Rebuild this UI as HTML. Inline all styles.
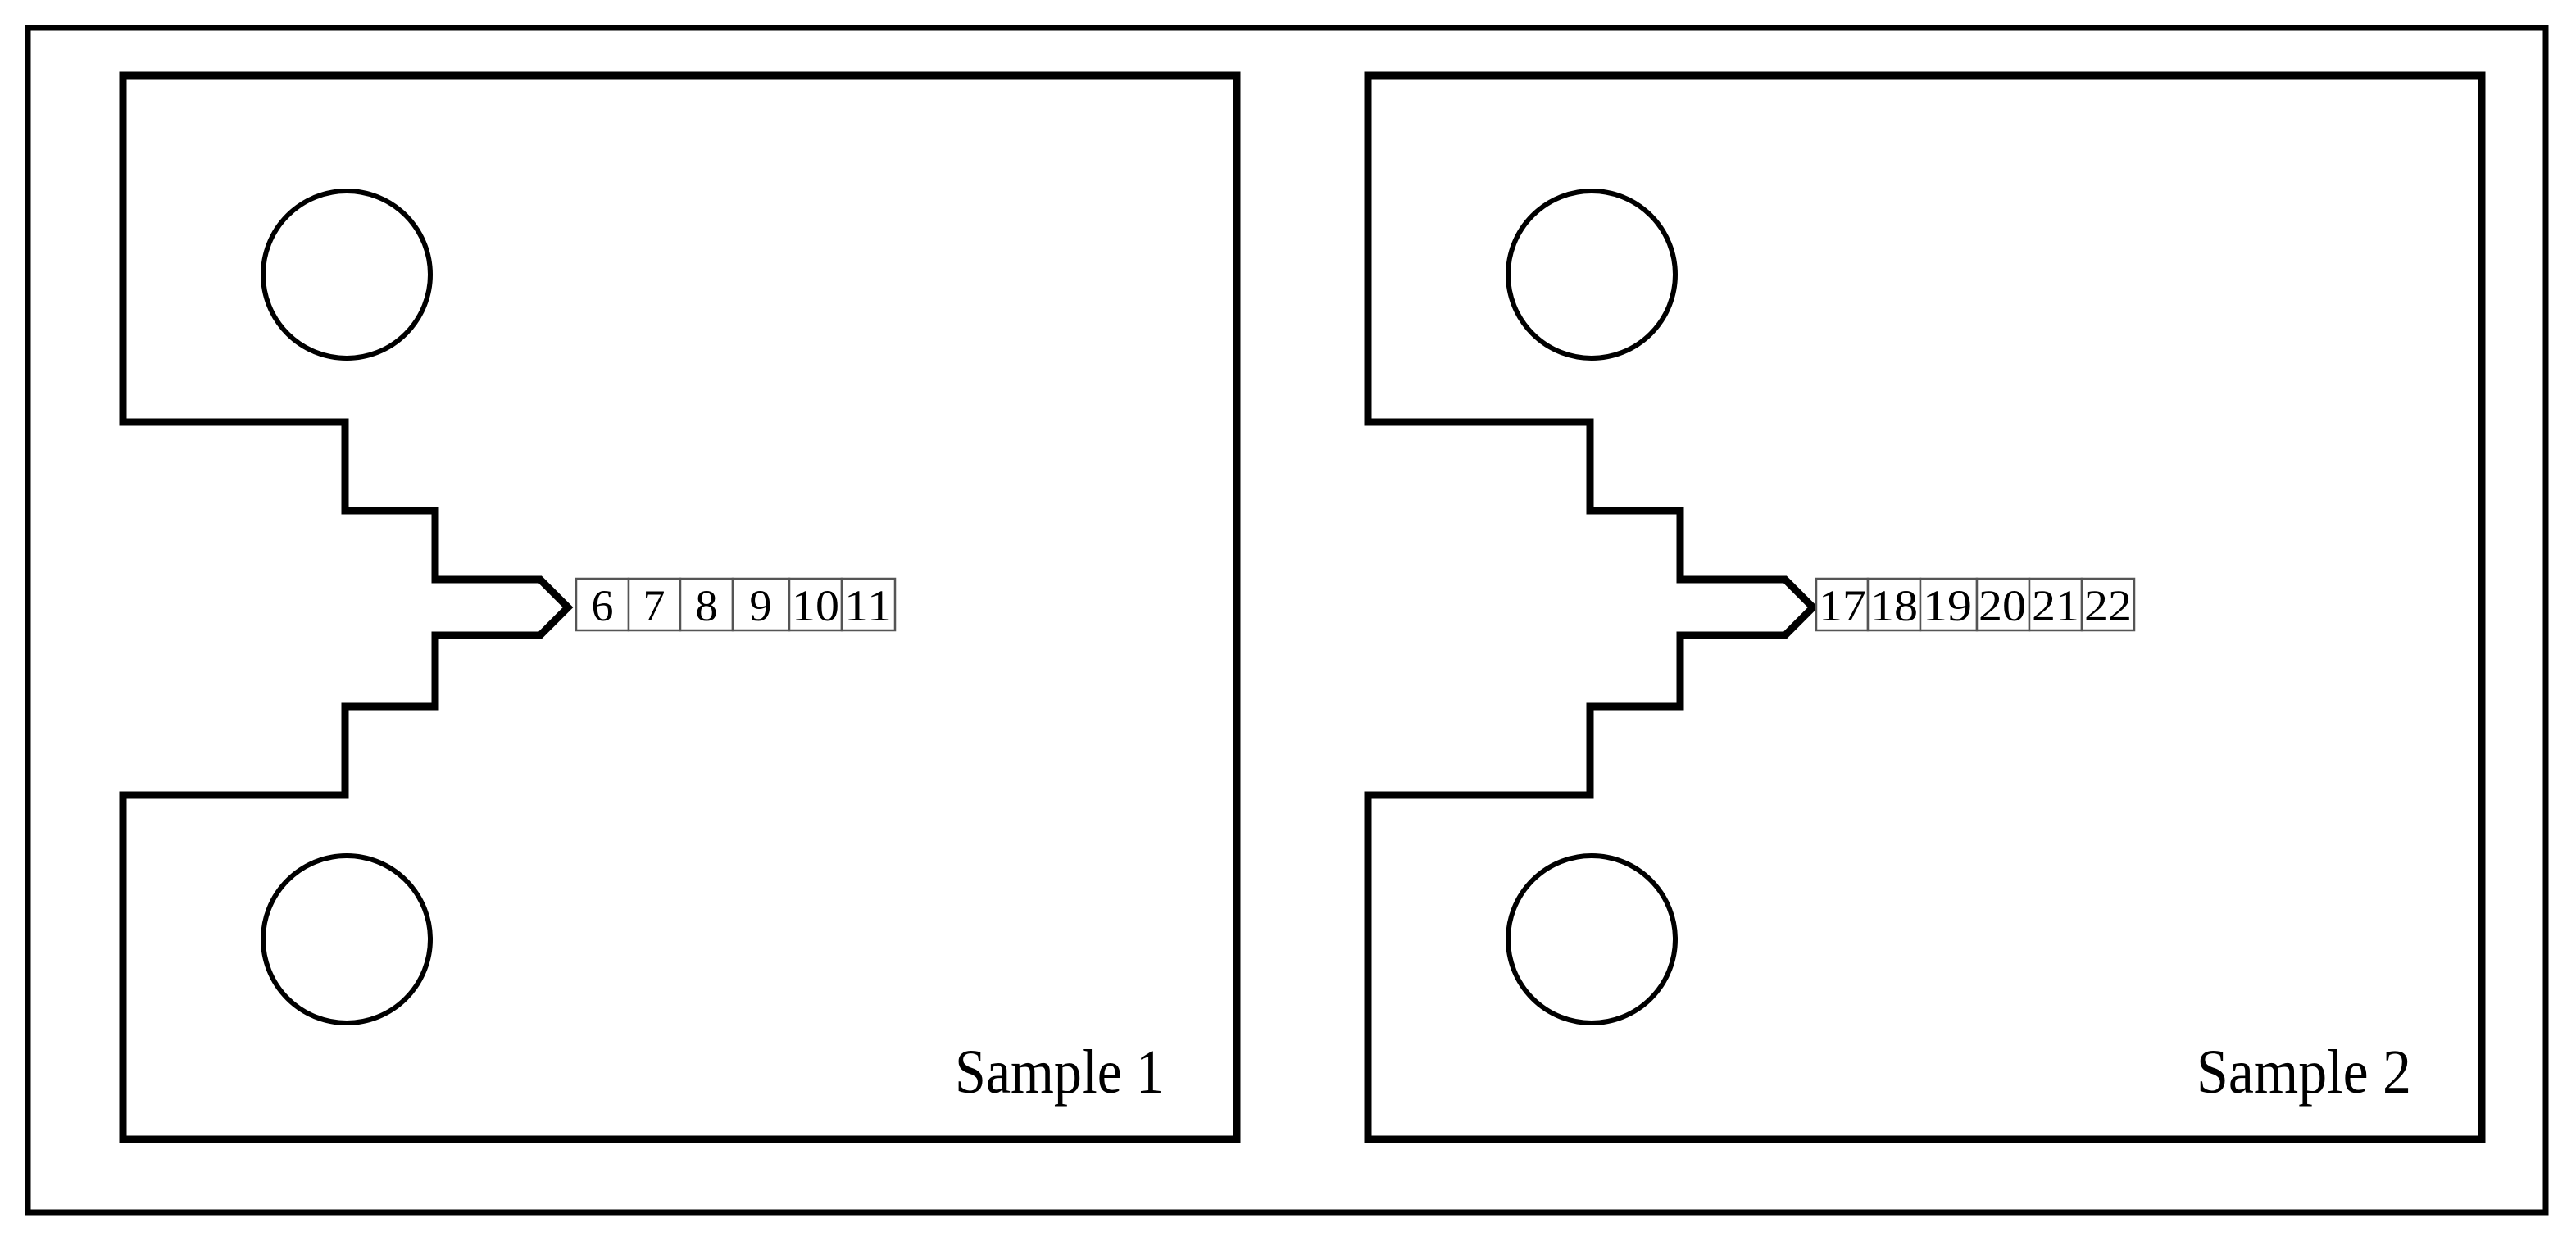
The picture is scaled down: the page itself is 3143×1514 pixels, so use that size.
<!DOCTYPE html>
<html><head><meta charset="utf-8"><style>html,body{margin:0;padding:0;background:#fff}svg{display:block}</style></head>
<body>
<svg width="3143" height="1514" viewBox="0 0 3143 1514" xmlns="http://www.w3.org/2000/svg">
<rect x="0" y="0" width="3143" height="1514" fill="#fff"/>
<rect x="34" y="34" width="3072" height="1445" fill="none" stroke="#000" stroke-width="7"/>
<defs>
<g id="s">
<path d="M150,515 V92 H1509 V1390 H150 V970 H421 V862 H531 V775 H659 L693,741 L659,707 H531 V623 H421 V515 Z" fill="none" stroke="#000" stroke-width="9" stroke-linejoin="miter"/>
<circle cx="423" cy="335" r="102" fill="none" stroke="#000" stroke-width="6"/>
<circle cx="423" cy="1146" r="102" fill="none" stroke="#000" stroke-width="6"/>
</g>
</defs>
<use href="#s"/>
<use href="#s" x="1519"/>
<g fill="#fff" stroke="#555" stroke-width="2.5">
<rect x="703" y="706" width="64" height="63"/><rect x="767" y="706" width="63" height="63"/><rect x="830" y="706" width="64" height="63"/><rect x="894" y="706" width="69" height="63"/><rect x="963" y="706" width="64" height="63"/><rect x="1027" y="706" width="65" height="63"/>
<rect x="2216" y="706" width="63" height="63"/><rect x="2279" y="706" width="64" height="63"/><rect x="2343" y="706" width="69" height="63"/><rect x="2412" y="706" width="64" height="63"/><rect x="2476" y="706" width="64" height="63"/><rect x="2540" y="706" width="64" height="63"/>
</g>
<g font-family="Liberation Serif, serif" font-size="54" fill="#000">
<text x="735" y="757" text-anchor="middle">6</text><text x="798" y="757" text-anchor="middle">7</text><text x="862" y="757" text-anchor="middle">8</text><text x="928" y="757" text-anchor="middle">9</text>
<text x="966" y="757" textLength="58" lengthAdjust="spacingAndGlyphs">10</text><text x="1030" y="757" textLength="58" lengthAdjust="spacingAndGlyphs">11</text>
<text x="2219" y="757" textLength="58" lengthAdjust="spacingAndGlyphs">17</text><text x="2282" y="757" textLength="58" lengthAdjust="spacingAndGlyphs">18</text><text x="2346" y="757" textLength="60" lengthAdjust="spacingAndGlyphs">19</text><text x="2414" y="757" textLength="58" lengthAdjust="spacingAndGlyphs">20</text><text x="2479" y="757" textLength="58" lengthAdjust="spacingAndGlyphs">21</text><text x="2543" y="757" textLength="58" lengthAdjust="spacingAndGlyphs">22</text>
</g>
<g font-family="Liberation Serif, serif" font-size="76" fill="#000">
<text x="1165" y="1333" textLength="255" lengthAdjust="spacingAndGlyphs">Sample 1</text>
<text x="2680" y="1333" textLength="262" lengthAdjust="spacingAndGlyphs">Sample 2</text>
</g>
</svg>
</body></html>
